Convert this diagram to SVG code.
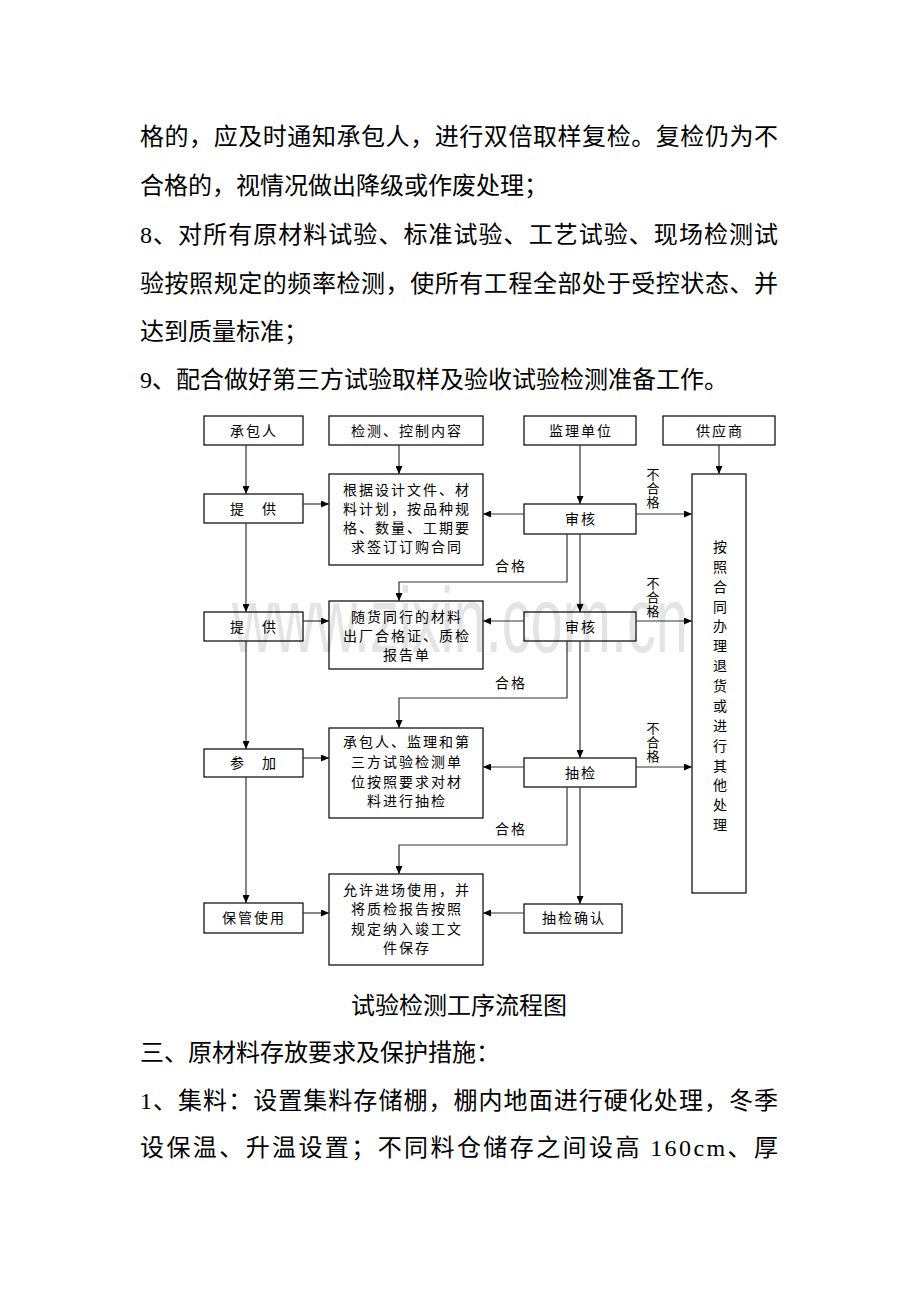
<svg xmlns="http://www.w3.org/2000/svg" width="920" height="1302" viewBox="0 0 920 1302">
<style>
.body{font-family:"Liberation Serif","Noto Sans CJK SC",serif;font-size:24px;fill:#000}
.box{fill:none;stroke:#000;stroke-width:1.2}
.lbl{font-family:"Noto Sans CJK SC",sans-serif;font-size:14px;fill:#000;text-anchor:middle;letter-spacing:2px}
.vt{font-family:"Noto Sans CJK SC",sans-serif;font-size:13px;fill:#000;text-anchor:middle}
.con{stroke:#333;stroke-width:1.2;fill:none}
.wm{font-family:"Liberation Sans",sans-serif;font-size:92px;fill:#e4e4e4}
</style>
<defs>
<marker id="ah" viewBox="0 0 8 7" refX="8" refY="3.5" markerWidth="8" markerHeight="7" markerUnits="userSpaceOnUse" orient="auto">
<path d="M0,0 L8,3.5 L0,7 z" fill="#000"/>
</marker>
</defs>
<rect width="920" height="1302" fill="#fff"/>

<g id="text-top">
<text class="body" x="140" y="145" textLength="638" lengthAdjust="spacing">格的，应及时通知承包人，进行双倍取样复检。复检仍为不</text>
<text class="body" x="140" y="194">合格的，视情况做出降级或作废处理；</text>
<text class="body" x="140" y="243" textLength="638" lengthAdjust="spacing">8、对所有原材料试验、标准试验、工艺试验、现场检测试</text>
<text class="body" x="140" y="292" textLength="638" lengthAdjust="spacing">验按照规定的频率检测，使所有工程全部处于受控状态、并</text>
<text class="body" x="140" y="340">达到质量标准；</text>
<text class="body" x="140" y="388">9、配合做好第三方试验取样及验收试验检测准备工作。</text>
</g>

<text class="wm" x="232" y="652" textLength="456" lengthAdjust="spacingAndGlyphs">www.zixin.com.cn</text>

<g id="n-chengbaoren"><rect class="box" x="204" y="416" width="99" height="29"/><text class="lbl" x="254" y="436">承包人</text></g>
<g id="n-jiance"><rect class="box" x="329" y="416" width="154" height="29"/><text class="lbl" x="407" y="436">检测、控制内容</text></g>
<g id="n-jianli"><rect class="box" x="524" y="416" width="112" height="29"/><text class="lbl" x="581" y="436">监理单位</text></g>
<g id="n-gongying"><rect class="box" x="663" y="416" width="112" height="29"/><text class="lbl" x="720" y="436">供应商</text></g>

<g id="n-tigong1"><rect class="box" x="204" y="494" width="99" height="29"/><text class="lbl" x="254" y="514">提　供</text></g>
<g id="n-genju"><rect class="box" x="329" y="474" width="154" height="91"/>
<text class="lbl" x="407" y="495">根据设计文件、材</text>
<text class="lbl" x="407" y="514">料计划，按品种规</text>
<text class="lbl" x="407" y="533">格、数量、工期要</text>
<text class="lbl" x="407" y="552">求签订订购合同</text></g>
<g id="n-shenhe1"><rect class="box" x="524" y="504" width="112" height="30"/><text class="lbl" x="581" y="524">审核</text></g>

<g id="n-tigong2"><rect class="box" x="204" y="612" width="99" height="29"/><text class="lbl" x="254" y="632">提　供</text></g>
<g id="n-suihuo"><rect class="box" x="329" y="601" width="154" height="68"/>
<text class="lbl" x="407" y="622">随货同行的材料</text>
<text class="lbl" x="407" y="641">出厂合格证、质检</text>
<text class="lbl" x="407" y="660">报告单</text></g>
<g id="n-shenhe2"><rect class="box" x="524" y="612" width="112" height="29"/><text class="lbl" x="581" y="632">审核</text></g>

<g id="n-canjia"><rect class="box" x="204" y="749" width="99" height="28"/><text class="lbl" x="254" y="768">参　加</text></g>
<g id="n-choujian-desc"><rect class="box" x="329" y="728" width="154" height="90"/>
<text class="lbl" x="407" y="747">承包人、监理和第</text>
<text class="lbl" x="407" y="767">三方试验检测单</text>
<text class="lbl" x="407" y="787">位按照要求对材</text>
<text class="lbl" x="407" y="806">料进行抽检</text></g>
<g id="n-choujian"><rect class="box" x="524" y="758" width="112" height="29"/><text class="lbl" x="581" y="778">抽检</text></g>

<g id="n-baoguan"><rect class="box" x="204" y="903" width="99" height="30"/><text class="lbl" x="254" y="923">保管使用</text></g>
<g id="n-yunxu"><rect class="box" x="329" y="874" width="154" height="91"/>
<text class="lbl" x="407" y="895">允许进场使用，并</text>
<text class="lbl" x="407" y="914">将质检报告按照</text>
<text class="lbl" x="407" y="934">规定纳入竣工文</text>
<text class="lbl" x="407" y="953">件保存</text></g>
<g id="n-queren"><rect class="box" x="524" y="904" width="98" height="29"/><text class="lbl" x="574" y="923">抽检确认</text></g>

<g id="n-tuihuo"><rect class="box" x="692" y="474" width="54" height="419"/>
<text class="lbl" x="720" y="552" style="letter-spacing:0">按</text>
<text class="lbl" x="720" y="572" style="letter-spacing:0">照</text>
<text class="lbl" x="720" y="592" style="letter-spacing:0">合</text>
<text class="lbl" x="720" y="612" style="letter-spacing:0">同</text>
<text class="lbl" x="720" y="631" style="letter-spacing:0">办</text>
<text class="lbl" x="720" y="651" style="letter-spacing:0">理</text>
<text class="lbl" x="720" y="671" style="letter-spacing:0">退</text>
<text class="lbl" x="720" y="691" style="letter-spacing:0">货</text>
<text class="lbl" x="720" y="711" style="letter-spacing:0">或</text>
<text class="lbl" x="720" y="731" style="letter-spacing:0">进</text>
<text class="lbl" x="720" y="751" style="letter-spacing:0">行</text>
<text class="lbl" x="720" y="771" style="letter-spacing:0">其</text>
<text class="lbl" x="720" y="790" style="letter-spacing:0">他</text>
<text class="lbl" x="720" y="810" style="letter-spacing:0">处</text>
<text class="lbl" x="720" y="830" style="letter-spacing:0">理</text></g>

<g id="connectors">
<line class="con" x1="246" y1="445" x2="246" y2="494" marker-end="url(#ah)"/>
<line class="con" x1="246" y1="523" x2="246" y2="612" marker-end="url(#ah)"/>
<line class="con" x1="246" y1="641" x2="246" y2="749" marker-end="url(#ah)"/>
<line class="con" x1="246" y1="777" x2="246" y2="903" marker-end="url(#ah)"/>
<line class="con" x1="399" y1="445" x2="399" y2="474" marker-end="url(#ah)"/>
<line class="con" x1="580" y1="445" x2="580" y2="504" marker-end="url(#ah)"/>
<line class="con" x1="719" y1="445" x2="719" y2="474" marker-end="url(#ah)"/>

<line class="con" x1="303" y1="504" x2="329" y2="504" marker-end="url(#ah)"/>
<line class="con" x1="524" y1="514" x2="483" y2="514" marker-end="url(#ah)"/>
<line class="con" x1="636" y1="514" x2="692" y2="514" marker-end="url(#ah)"/>
<polyline class="con" points="567,534 567,582 399,582 399,601" marker-end="url(#ah)"/>
<line class="con" x1="580" y1="534" x2="580" y2="612" marker-end="url(#ah)"/>

<line class="con" x1="303" y1="621" x2="329" y2="621" marker-end="url(#ah)"/>
<line class="con" x1="524" y1="621" x2="483" y2="621" marker-end="url(#ah)"/>
<line class="con" x1="636" y1="621" x2="692" y2="621" marker-end="url(#ah)"/>
<polyline class="con" points="567,641 567,698 399,698 399,728" marker-end="url(#ah)"/>
<line class="con" x1="580" y1="641" x2="580" y2="758" marker-end="url(#ah)"/>

<line class="con" x1="303" y1="758" x2="329" y2="758" marker-end="url(#ah)"/>
<line class="con" x1="524" y1="767" x2="483" y2="767" marker-end="url(#ah)"/>
<line class="con" x1="636" y1="767" x2="692" y2="767" marker-end="url(#ah)"/>
<polyline class="con" points="567,787 567,845 399,845 399,874" marker-end="url(#ah)"/>
<line class="con" x1="580" y1="787" x2="580" y2="904" marker-end="url(#ah)"/>

<line class="con" x1="303" y1="913" x2="329" y2="913" marker-end="url(#ah)"/>
<line class="con" x1="524" y1="913" x2="483" y2="913" marker-end="url(#ah)"/>

<text class="vt" x="653" y="479">不</text>
<text class="vt" x="653" y="493">合</text>
<text class="vt" x="653" y="507">格</text>
<text class="vt" x="653" y="588">不</text>
<text class="vt" x="653" y="602">合</text>
<text class="vt" x="653" y="616">格</text>
<text class="vt" x="653" y="733">不</text>
<text class="vt" x="653" y="747">合</text>
<text class="vt" x="653" y="761">格</text>
<text class="lbl" x="511" y="571">合格</text>
<text class="lbl" x="511" y="688">合格</text>
<text class="lbl" x="511" y="834">合格</text>
</g>

<g id="text-bottom">
<text class="body" x="459" y="1014" text-anchor="middle">试验检测工序流程图</text>
<text class="body" x="140" y="1061">三、原材料存放要求及保护措施：</text>
<text class="body" x="140" y="1109" textLength="638" lengthAdjust="spacing">1、集料：设置集料存储棚，棚内地面进行硬化处理，冬季</text>
<text class="body" x="140" y="1156" textLength="638" lengthAdjust="spacing">设保温、升温设置；不同料仓储存之间设高 160cm、厚</text>
</g>
</svg>
